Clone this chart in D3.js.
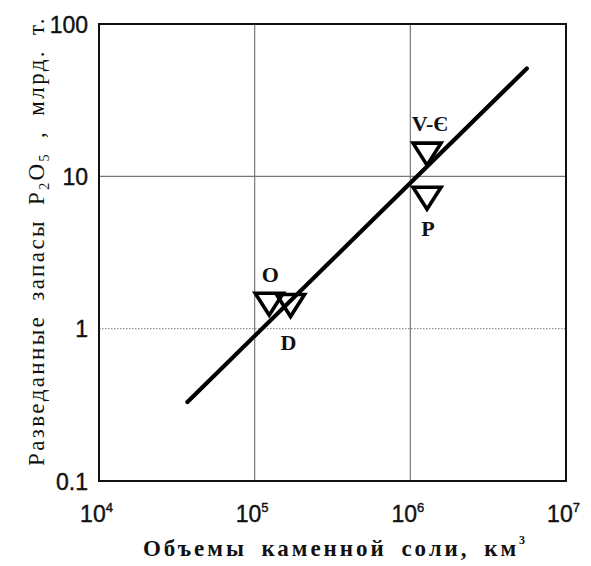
<!DOCTYPE html>
<html><head><meta charset="utf-8">
<script src="https://cdn.jsdelivr.net/npm/d3@7"></script>
<style>
html,body{margin:0;padding:0;background:#fff;}
</style></head>
<body><svg id="c" width="591" height="566"></svg>
<script>
// ---- data ----
const xTicks = [1e4, 1e5, 1e6, 1e7];
const xTickExp = ["4", "5", "6", "7"];
const yTicks = [0.1, 1, 10, 100];
const yTickLabels = ["0.1", "1", "10", "100"];
const pointNames = ["V-Є", "P", "O", "D"];
const pointVolumes = [1.28e6, 1.28e6, 1.24e5, 1.70e5];   // km³
const pointReserves = [14.8, 7.6, 1.53, 1.50];            // bln t P2O5
const lineX = [3.7e4, 5.6e6];
const lineY = [0.33, 51];

// ---- layout ----
const L = 99, R = 566, T = 24, B = 481;
const svg = d3.select("#c");
const x = d3.scaleLog().domain([1e4, 1e7]).range([L, R]);
const y = d3.scaleLog().domain([0.1, 100]).range([B, T]);

// grid
const g = svg.append("g");
g.selectAll("line.vx").data([1e5, 1e6]).join("line")
  .attr("x1", d => x(d)).attr("x2", d => x(d)).attr("y1", T).attr("y2", B)
  .attr("stroke", "#777").attr("stroke-width", 1.2);
g.append("line").attr("x1", L).attr("x2", R).attr("y1", y(10)).attr("y2", y(10))
  .attr("stroke", "#777").attr("stroke-width", 1.2);
g.append("line").attr("x1", L).attr("x2", R).attr("y1", y(1)).attr("y2", y(1))
  .attr("stroke", "#777").attr("stroke-width", 1).attr("stroke-dasharray", "1.5,1.5");

// frame
svg.append("rect").attr("x", L).attr("y", T).attr("width", R - L).attr("height", B - T)
  .attr("fill", "none").attr("stroke", "#111").attr("stroke-width", 2);

// axes (ticks hidden, labels custom)
const tickFont = "'Liberation Sans',Arial,sans-serif";
const yAxis = d3.axisLeft(y).tickValues(yTicks).tickSize(0).tickPadding(11)
  .tickFormat((d, i) => yTickLabels[i]);
const ya = svg.append("g").attr("transform", `translate(${L},0)`).call(yAxis);
ya.select(".domain").remove();
ya.selectAll("text").attr("font-family", tickFont).attr("font-size", 23)
  .attr("fill", "#111").attr("stroke", "#111").attr("stroke-width", 0.4)
  .attr("dy", "0.36em");

const xAxis = d3.axisBottom(x).tickValues(xTicks).tickSize(0).tickFormat("");
const xa = svg.append("g").attr("transform", `translate(0,${B})`).call(xAxis);
xa.select(".domain").remove();
xa.selectAll(".tick").each(function (d, i) {
  const t = d3.select(this).append("text").attr("y", 41).attr("x", -3)
    .attr("text-anchor", "middle").attr("font-family", tickFont)
    .attr("font-size", 23).attr("fill", "#111")
    .attr("stroke", "#111").attr("stroke-width", 0.4);
  t.append("tspan").text("10");
  t.append("tspan").attr("font-size", 13).attr("dy", -10).text(xTickExp[i]);
});

// regression line
svg.append("line")
  .attr("x1", x(lineX[0])).attr("y1", y(lineY[0]))
  .attr("x2", x(lineX[1])).attr("y2", y(lineY[1]))
  .attr("stroke", "#000").attr("stroke-width", 4.2).attr("stroke-linecap", "round");

// points: downward triangles
const tri = "M-14,-7.3L14,-7.3L0,14.7Z";
const pts = pointNames.map((n, i) => ({ n, v: pointVolumes[i], r: pointReserves[i] }));
svg.append("g").selectAll("path").data(pts).join("path")
  .attr("d", tri)
  .attr("transform", d => `translate(${x(d.v)},${y(d.r)})`)
  .attr("fill", "none").attr("stroke", "#000").attr("stroke-width", 3.6)
  .attr("stroke-linejoin", "miter");

// point labels
const labelOffset = { "V-Є": [3, -19], "P": [1, 42], "O": [1, -19], "D": [-2, 48] };
svg.append("g").selectAll("text").data(pts).join("text")
  .attr("x", d => x(d.v) + labelOffset[d.n][0])
  .attr("y", d => y(d.r) + labelOffset[d.n][1])
  .attr("text-anchor", "middle")
  .attr("font-family", "'Liberation Serif','Times New Roman',serif")
  .attr("font-weight", "bold").attr("font-size", 22).attr("fill", "#111")
  .text(d => d.n);

// axis titles
const serif = "'Liberation Serif','Times New Roman',serif";
function fit(textSel, target) {
  const len = textSel.node().getBBox().width;
  const n = textSel.text().length;
  const ls = Math.min(5, Math.max(0, (target - len) / n));
  textSel.attr("letter-spacing", ls);
}
const xt = svg.append("text").attr("x", 143).attr("y", 556)
  .attr("font-family", serif).attr("font-weight", "bold").attr("font-size", 23)
  .attr("word-spacing", 6).attr("fill", "#111");
xt.append("tspan").text("Объемы каменной соли, км");
xt.append("tspan").attr("font-size", 12).attr("dy", -12).text("3");
fit(xt, 385);

const yt = svg.append("text")
  .attr("transform", "translate(44,466) rotate(-90)")
  .attr("font-family", serif).attr("font-size", 23).attr("word-spacing", 6)
  .attr("fill", "#111");
yt.append("tspan").text("Разведанные запасы P");
yt.append("tspan").attr("font-size", 14).attr("dy", 5).text("2");
yt.append("tspan").attr("dy", -5).text("O");
yt.append("tspan").attr("font-size", 14).attr("dy", 5).text("5");
yt.append("tspan").attr("dy", -5).text(" , млрд. т.");
fit(yt, 450);
</script></body></html>
